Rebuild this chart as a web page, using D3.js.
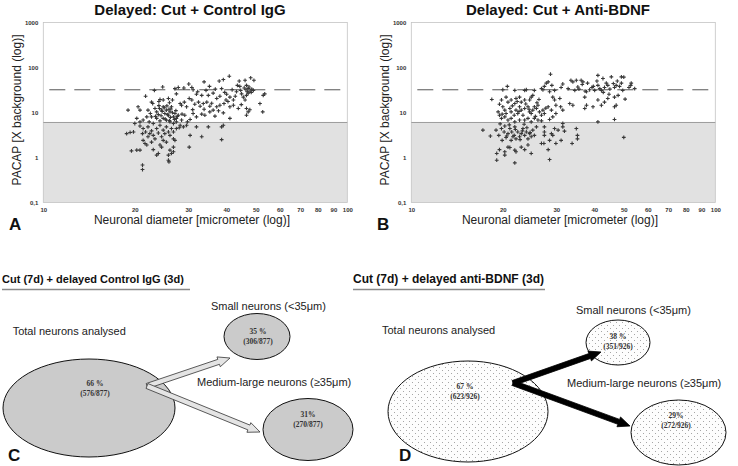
<!DOCTYPE html>
<html><head><meta charset="utf-8">
<script src="https://cdn.jsdelivr.net/npm/d3@7"></script>
<style>body{margin:0;background:#fff}svg{display:block}</style>
</head><body>
<svg id="c" width="738" height="466"></svg>
<script>
// ---------- DATA ----------
const xTickValues = [10,20,30,40,50,60,70,80,90,100];
const yTickValues = [1000,100,10,1,0.1];
const yTickLabels = ["1000","100","10","1","0,1"];
const lowThreshold = 6;     // solid line, shaded below
const highThreshold = 32;   // dashed line

const scatterTitles = ["Delayed: Cut + Control IgG","Delayed: Cut + Anti-BDNF"];
const xAxisTitle = "Neuronal diameter [micrometer (log)]";
const yAxisTitle = "PACAP [X background (log)]";

// [diameter (µm), PACAP (x background)]
const pointsControl = [
[30.1,43],[33.8,48],[35.2,38],[37.9,50],[39.1,54],[40.9,64],[44.1,50],[46.1,52],[48.1,59],[49.3,52],
[46.6,40],[47.2,34],[47.9,30],[49.1,31],[24.7,37],[23.2,31],[27.1,34],[27.8,36],[30.8,36],[31.1,32],
[31.9,25.5],[33.2,24],[34.3,31],[34.9,24],[36.2,27],[37.2,20.5],[38.1,23],[38.6,34],[40.1,25.5],[41.1,22],
[42.2,19],[43.2,29],[44.3,38],[44.9,26],[45.5,22],[46.1,19],[46.6,24],[47.2,27],[48.3,28],[46.4,32],
[52.9,24],[53.5,26],[21.7,23],[22.7,17],[24.2,19.5],[24.8,19],[25.8,20.5],[26.6,19],[27.4,26],[28.2,15.8],
[28.5,14.5],[29.1,17],[29.6,13.4],[30.2,20.5],[30.8,19],[31.5,15.3],[32.4,17],[32.8,13.8],[33.6,15.8],[34.5,17],
[35.3,13.8],[36.2,11.3],[37.2,13.4],[38.1,14.5],[39.3,15.8],[39.9,19],[41.1,13.4],[42.2,14.5],[43.8,12.3],[46.6,12.3],
[47.2,10.3],[46.6,8.7],[51.6,15.8],[52.7,10.3],[19.0,11.3],[20.5,13.4],[20.8,11.3],[22.1,11.3],[22.9,15.8],[23.3,12.3],
[23.6,10.3],[24.1,12.3],[24.5,11.3],[24.8,13.4],[25.1,9.5],[25.4,11.3],[25.8,8.7],[26.1,10.3],[26.4,13.4],[26.8,8.0],
[27.1,9.5],[27.4,7.4],[27.8,8.7],[28.5,6.8],[29.2,8.7],[30.4,7.0],[31.1,9.5],[31.9,8.0],[33.2,9.2],[34.0,8.7],
[35.3,10.3],[36.7,8.3],[37.7,10.9],[39.1,9.8],[41.1,7.4],[20.3,7.4],[20.0,5.7],[20.8,6.2],[21.3,6.8],[21.9,8.0],
[22.3,6.2],[22.7,8.0],[23.0,5.7],[23.6,7.4],[24.2,6.5],[24.8,7.4],[25.4,6.8],[26.1,6.2],[26.8,5.7],[27.4,6.2],
[28.2,5.2],[18.8,3.4],[19.8,3.7],[20.8,5.0],[21.3,4.4],[21.7,3.7],[22.1,4.8],[22.7,3.9],[23.0,3.1],[23.6,4.4],
[23.9,3.5],[24.2,5.2],[24.5,2.9],[24.8,4.05],[25.1,3.4],[25.4,4.8],[25.8,3.7],[26.1,3.1],[26.4,4.4],[26.8,3.7],
[27.4,4.4],[28.0,4.6],[28.9,4.8],[29.6,5.2],[30.4,3.1],[31.9,4.8],[33.2,2.9],[34.9,4.8],[38.6,4.8],[39.1,5.2],
[38.6,2.5],[30.2,1.7],[19.5,1.4],[20.3,1.46],[20.8,1.46],[21.2,3.4],[21.3,2.4],[21.6,2.05],[21.9,1.9],[22.7,2.2],
[23.0,1.5],[23.6,1.13],[23.9,1.23],[24.2,1.9],[24.5,1.7],[24.8,2.4],[25.4,2.2],[25.8,1.13],[26.1,1.46],[26.4,1.23],
[26.8,1.34],[25.8,0.87],[25.9,0.8],[26.8,1.7],[27.1,2.4],[26.8,2.6],[21.2,0.68],[21.2,0.54],[22.1,2.9],[22.4,3.4],
[23.3,2.6],[19.3,3.6],
[24.6,10.5],[25.0,12.8],[25.6,9.0],[25.9,11.8],[26.2,7.8],[26.6,9.9],[24.4,8.5],[25.2,7.1],[26.0,6.6],[27.0,7.0],
[27.6,8.2],[23.9,9.0],[25.5,14.0],[26.3,12.0],[24.0,14.2],[23.4,8.2],[22.5,9.5],[27.3,11.0],[28.6,9.2],[29.8,6.2],
[45.8,35],[47.5,37],[46.9,29],[48.5,33],[44.6,31],[43.5,40],[41.8,32],[39.5,28],[42.8,23],[36.8,33],
[32.2,29],[29.0,35],[26.0,16.5],[24.0,17.5],[31.0,11.6],[33.8,11.8],[35.8,16.0],[40.5,17.5],[44.8,15.0],[47.8,11.5]
];

const pointsBDNF = [
[28.7,71],[41.1,67],[42.7,57],[45.5,62],[49.1,62],[50.0,61],[52.9,45],[52.7,40],[49.1,45],[47.2,40],
[46.6,36],[44.3,40],[43.2,36],[42.2,31],[41.1,40],[40.1,31],[39.3,36],[38.6,32],[37.7,29],[36.2,52],
[36.7,48],[34.9,52],[34.0,48],[33.5,52],[32.8,34],[34.5,31],[35.3,37],[37.2,22],[37.7,14.5],[37.2,12.3],
[39.6,13.4],[41.1,19],[42.2,14.5],[43.2,17],[44.3,20.5],[46.6,22],[47.2,14.5],[46.6,13.4],[47.9,24],[49.6,31],
[50.5,19.8],[52.0,36],[54.3,34],[31.5,43],[31.1,36],[29.6,31],[29.0,40],[28.2,48],[27.8,45],[27.4,38],
[26.8,34],[27.1,32],[28.5,29],[29.2,22],[29.6,19],[30.8,20.5],[29.9,14.5],[31.0,13.4],[31.5,11.3],[33.2,15.8],
[34.0,14.5],[20.7,38],[20.0,32],[21.9,31],[23.6,31],[23.9,32],[24.8,22],[25.1,24],[25.4,31],[24.5,19],
[23.6,19],[23.0,17],[22.7,22],[22.1,20.5],[21.9,15.8],[21.3,19],[20.8,17],[20.5,22],[19.8,19],[18.4,19.5],
[19.5,15.3],[20.0,13.4],[20.3,11.3],[19.3,10.3],[19.5,8.7],[19.8,7.4],[20.3,8.0],[20.5,9.5],[21.1,12.3],[21.3,10.3],
[21.8,8.7],[22.1,11.3],[22.4,9.5],[22.7,13.4],[23.0,11.3],[23.3,8.7],[23.6,12.3],[24.2,13.4],[24.5,10.3],[24.8,9.5],
[25.1,11.3],[25.4,13.4],[25.8,12.3],[26.1,14.5],[26.4,10.3],[26.8,8.7],[27.1,11.3],[27.4,9.5],[28.2,13.4],[28.9,11.3],
[29.2,8.0],[29.9,9.5],[20.8,6.8],[21.3,7.4],[21.9,6.2],[22.7,6.8],[23.6,6.8],[24.2,7.4],[24.8,6.2],[25.4,7.4],
[26.1,6.8],[26.8,6.5],[28.5,7.0],[41.1,6.2],[46.6,7.0],[17.2,4.05],[18.2,3.0],[19.0,4.05],[19.4,3.1],[19.8,4.4],
[19.9,2.4],[20.2,3.7],[20.3,5.0],[20.5,2.78],[20.8,3.4],[21.1,4.4],[21.3,2.4],[21.4,3.7],[21.8,3.1],[21.9,4.8],
[22.1,2.6],[22.4,3.7],[22.7,2.9],[23.0,3.4],[23.3,4.4],[23.6,3.1],[23.9,3.7],[24.2,2.6],[24.5,3.4],[24.8,2.9],
[25.1,4.05],[25.4,3.1],[25.8,4.8],[19.1,1.23],[19.1,0.87],[19.5,1.5],[20.3,1.13],[20.3,1.34],[20.8,1.7],[21.1,1.67],
[21.9,1.46],[22.1,1.34],[21.9,0.76],[23.0,1.7],[23.6,1.5],[24.2,1.9],[24.8,1.23],[27.4,4.8],[27.4,3.7],[27.4,3.1],
[27.3,2.05],[26.8,2.05],[28.5,2.4],[28.9,3.4],[29.2,3.1],[29.6,4.4],[30.4,4.05],[29.9,2.05],[31.5,5.7],[31.5,4.8],
[31.9,3.85],[31.1,2.4],[33.8,2.05],[34.9,4.4],[35.2,3.1],[35.2,2.6],[28.5,0.9],[28.2,1.5],[50.0,2.8],
[21.0,5.3],[22.0,4.2],[23.5,5.5],[24.0,4.6],[20.6,3.0],[22.8,2.5],[24.6,3.6],[21.6,2.9],[23.2,3.9],[19.6,5.6],
[21.5,14.0],[22.3,17.5],[23.8,15.5],[24.4,11.8],[25.9,16.5],[26.3,19.5],[27.7,12.5],[19.9,9.2],[22.6,10.5],[25.6,8.2],
[36.5,42],[38.0,45],[39.7,38],[41.7,34],[43.8,45],[45.0,33],[46.2,44],[48.4,38],[37.3,30],[35.6,33],
[42.8,28],[44.7,25.5],[47.6,50],[40.8,50]
];

// Flow diagrams
const flowTitles = ["Cut (7d) + delayed Control IgG (3d)","Cut (7d) + delayed anti-BDNF (3d)"];
const groupLabels = ["Total neurons analysed","Small neurons (<35\u03bcm)","Medium-large neurons (\u226535\u03bcm)"];
const pctControl = ["66 %","35 %","31%"];
const countsControl = ["(576/877)","(306/877)","(270/877)"];
const pctBDNF = ["67 %","38 %","29%"];
const countsBDNF = ["(623/926)","(351/926)","(272/926)"];

// ---------- DRAW ----------
const svg = d3.select("#c");
const defs = svg.append("defs");
const pat = defs.append("pattern").attr("id","dots").attr("patternUnits","userSpaceOnUse")
  .attr("width",6).attr("height",6);
pat.append("rect").attr("width",6).attr("height",6).attr("fill","#fdfdfd");
pat.append("circle").attr("cx",1.5).attr("cy",1.5).attr("r",0.5).attr("fill","#8a8a8a");
pat.append("circle").attr("cx",4.5).attr("cy",4.5).attr("r",0.5).attr("fill","#8a8a8a");

const SANS = "Arial, 'Liberation Sans', sans-serif";
const SERIF = "'Times New Roman', 'Liberation Serif', serif";

function drawScatter(ox, title, letter, pts){
  const g = svg.append("g");
  const left = ox + 43.3, right = ox + 347.3, top = 22.5, bottom = 202.5;
  const x = d3.scaleLog().domain([10,100]).range([left,right]);
  const y = d3.scaleLog().domain([0.1,1000]).range([bottom,top]);

  g.append("rect").attr("x",left).attr("y",y(lowThreshold)).attr("width",right-left)
    .attr("height",bottom-y(lowThreshold)).attr("fill","#e1e1e1");
  g.append("rect").attr("x",left).attr("y",top).attr("width",right-left).attr("height",bottom-top)
    .attr("fill","none").attr("stroke","#c4c4c4").attr("stroke-width",0.8);
  g.append("line").attr("x1",left).attr("x2",right).attr("y1",y(lowThreshold)).attr("y2",y(lowThreshold))
    .attr("stroke","#9c9c9c").attr("stroke-width",1);
  g.append("line").attr("x1",left+6).attr("x2",right).attr("y1",y(highThreshold)).attr("y2",y(highThreshold))
    .attr("stroke","#555").attr("stroke-width",1).attr("stroke-dasharray","16,9");

  const ya = g.append("g").attr("transform",`translate(${left},0)`)
    .call(d3.axisLeft(y).tickValues(yTickValues).tickFormat((d,i)=>yTickLabels[i]).tickSize(0).tickPadding(5));
  const xa = g.append("g").attr("transform",`translate(0,${bottom})`)
    .call(d3.axisBottom(x).tickValues(xTickValues).tickFormat(d3.format("d")).tickSize(0).tickPadding(5));
  [ya,xa].forEach(a=>{
    a.select(".domain").remove();
    a.selectAll("text").attr("font-family",SANS).attr("font-size",6).attr("font-weight","bold").attr("fill","#333");
  });

  g.selectAll("path.pt").data(pts).enter().append("path").attr("class","pt")
    .attr("d",d=>{const px=x(d[0]),py=y(d[1]);return `M${px-1.9},${py}H${px+1.9}M${px},${py-1.9}V${py+1.9}`;})
    .attr("stroke","#383838").attr("stroke-width",1.1).attr("fill","none");

  g.append("text").attr("x",ox+190).attr("y",15).attr("text-anchor","middle")
    .attr("font-family",SANS).attr("font-weight","bold").attr("font-size",15).attr("fill","#111").text(title);
  g.append("text").attr("transform",`translate(${ox+21},110) rotate(-90)`).attr("text-anchor","middle")
    .attr("font-family",SANS).attr("font-size",12).attr("fill","#222").text(yAxisTitle);
  g.append("text").attr("x",ox+192).attr("y",224).attr("text-anchor","middle")
    .attr("font-family",SANS).attr("font-size",12).attr("fill","#222").text(xAxisTitle);
  g.append("text").attr("x",ox+9).attr("y",230)
    .attr("font-family",SANS).attr("font-weight","bold").attr("font-size",17).attr("fill","#111").text(letter);
}

drawScatter(0, scatterTitles[0], "A", pointsControl);
drawScatter(368, scatterTitles[1], "B", pointsBDNF);

function arrowPts(s, t, w, hw, hl){
  const dx=t[0]-s[0], dy=t[1]-s[1], L=Math.hypot(dx,dy), ux=dx/L, uy=dy/L, nx=-uy, ny=ux;
  const b=[t[0]-ux*hl, t[1]-uy*hl];
  return [[s[0]+nx*w,s[1]+ny*w],[b[0]+nx*w,b[1]+ny*w],[b[0]+nx*hw,b[1]+ny*hw],t,
          [b[0]-nx*hw,b[1]-ny*hw],[b[0]-nx*w,b[1]-ny*w],[s[0]-nx*w,s[1]-ny*w]];
}

function drawFlow(L, title, pct, counts){
  const g = svg.append("g");
  g.append("text").attr("x",L.title[0]).attr("y",L.title[1]).attr("font-family",SANS).attr("font-weight","bold")
    .attr("font-size",L.titleSize).attr("fill","#111").text(title);
  g.append("line").attr("x1",L.rule[0]).attr("x2",L.rule[1]).attr("y1",L.rule[2]).attr("y2",L.rule[2])
    .attr("stroke","#8a8a8a").attr("stroke-width",1.4);
  L.ell.forEach((e,i)=>{
    g.append("ellipse").attr("cx",e[0]).attr("cy",e[1]).attr("rx",e[2]).attr("ry",e[3])
      .attr("fill",L.fill).attr("stroke","#111").attr("stroke-width",1);
    g.append("text").attr("x",e[0]+e[4]).attr("y",e[1]+e[5]).attr("text-anchor","middle")
      .attr("font-family",SERIF).attr("font-size",7.5).attr("font-weight","bold").attr("fill","#333").text(pct[i]);
    g.append("text").attr("x",e[0]+e[4]).attr("y",e[1]+e[5]+10).attr("text-anchor","middle")
      .attr("font-family",SERIF).attr("font-size",7.5).attr("font-weight","bold").attr("fill","#333").text(counts[i]);
  });
  L.tips.forEach(tip=>{
    g.append("path").attr("d",d3.line()(arrowPts(L.start,tip,2.6,5.2,12))+"Z")
      .attr("fill",L.arrowFill).attr("stroke",L.arrowStroke).attr("stroke-width",0.8);
  });
  L.labels.forEach((p,i)=>{
    g.append("text").attr("x",p[0]).attr("y",p[1]).attr("font-family",SANS).attr("font-size",11)
      .attr("fill","#222").text(groupLabels[i]);
  });
  g.append("text").attr("x",L.letter[0]).attr("y",L.letter[1]).attr("font-family",SANS).attr("font-weight","bold")
    .attr("font-size",17).attr("fill","#111").text(L.letterText);
}

drawFlow({
  title:[2,283], titleSize:11, rule:[2,190,289.5],
  start:[147,386], tips:[[230,358],[260,432]], arrowFill:"#e4e4e4", arrowStroke:"#333",
  fill:"#cbcbcb",
  ell:[[89,408,86,49,6,-22],[257,336.5,33,23,1,-3],[308,429.5,45,31,0,-13]],
  labels:[[12.7,335],[211,310],[197,386]],
  letter:[8,461], letterText:"C"
}, flowTitles[0], pctControl, countsControl);

drawFlow({
  title:[353,283], titleSize:12, rule:[353,545,289.5],
  start:[513,383], tips:[[601,352],[630,426]], arrowFill:"#000", arrowStroke:"#000",
  fill:"url(#dots)",
  ell:[[468,411.5,80,50.5,-3,-23],[618,342.5,32,22.5,0,-4],[678.5,432.5,47.5,32.5,-2.5,-15]],
  labels:[[382,334],[576,314],[567,387]],
  letter:[399,461], letterText:"D"
}, flowTitles[1], pctBDNF, countsBDNF);
</script>
</body></html>
